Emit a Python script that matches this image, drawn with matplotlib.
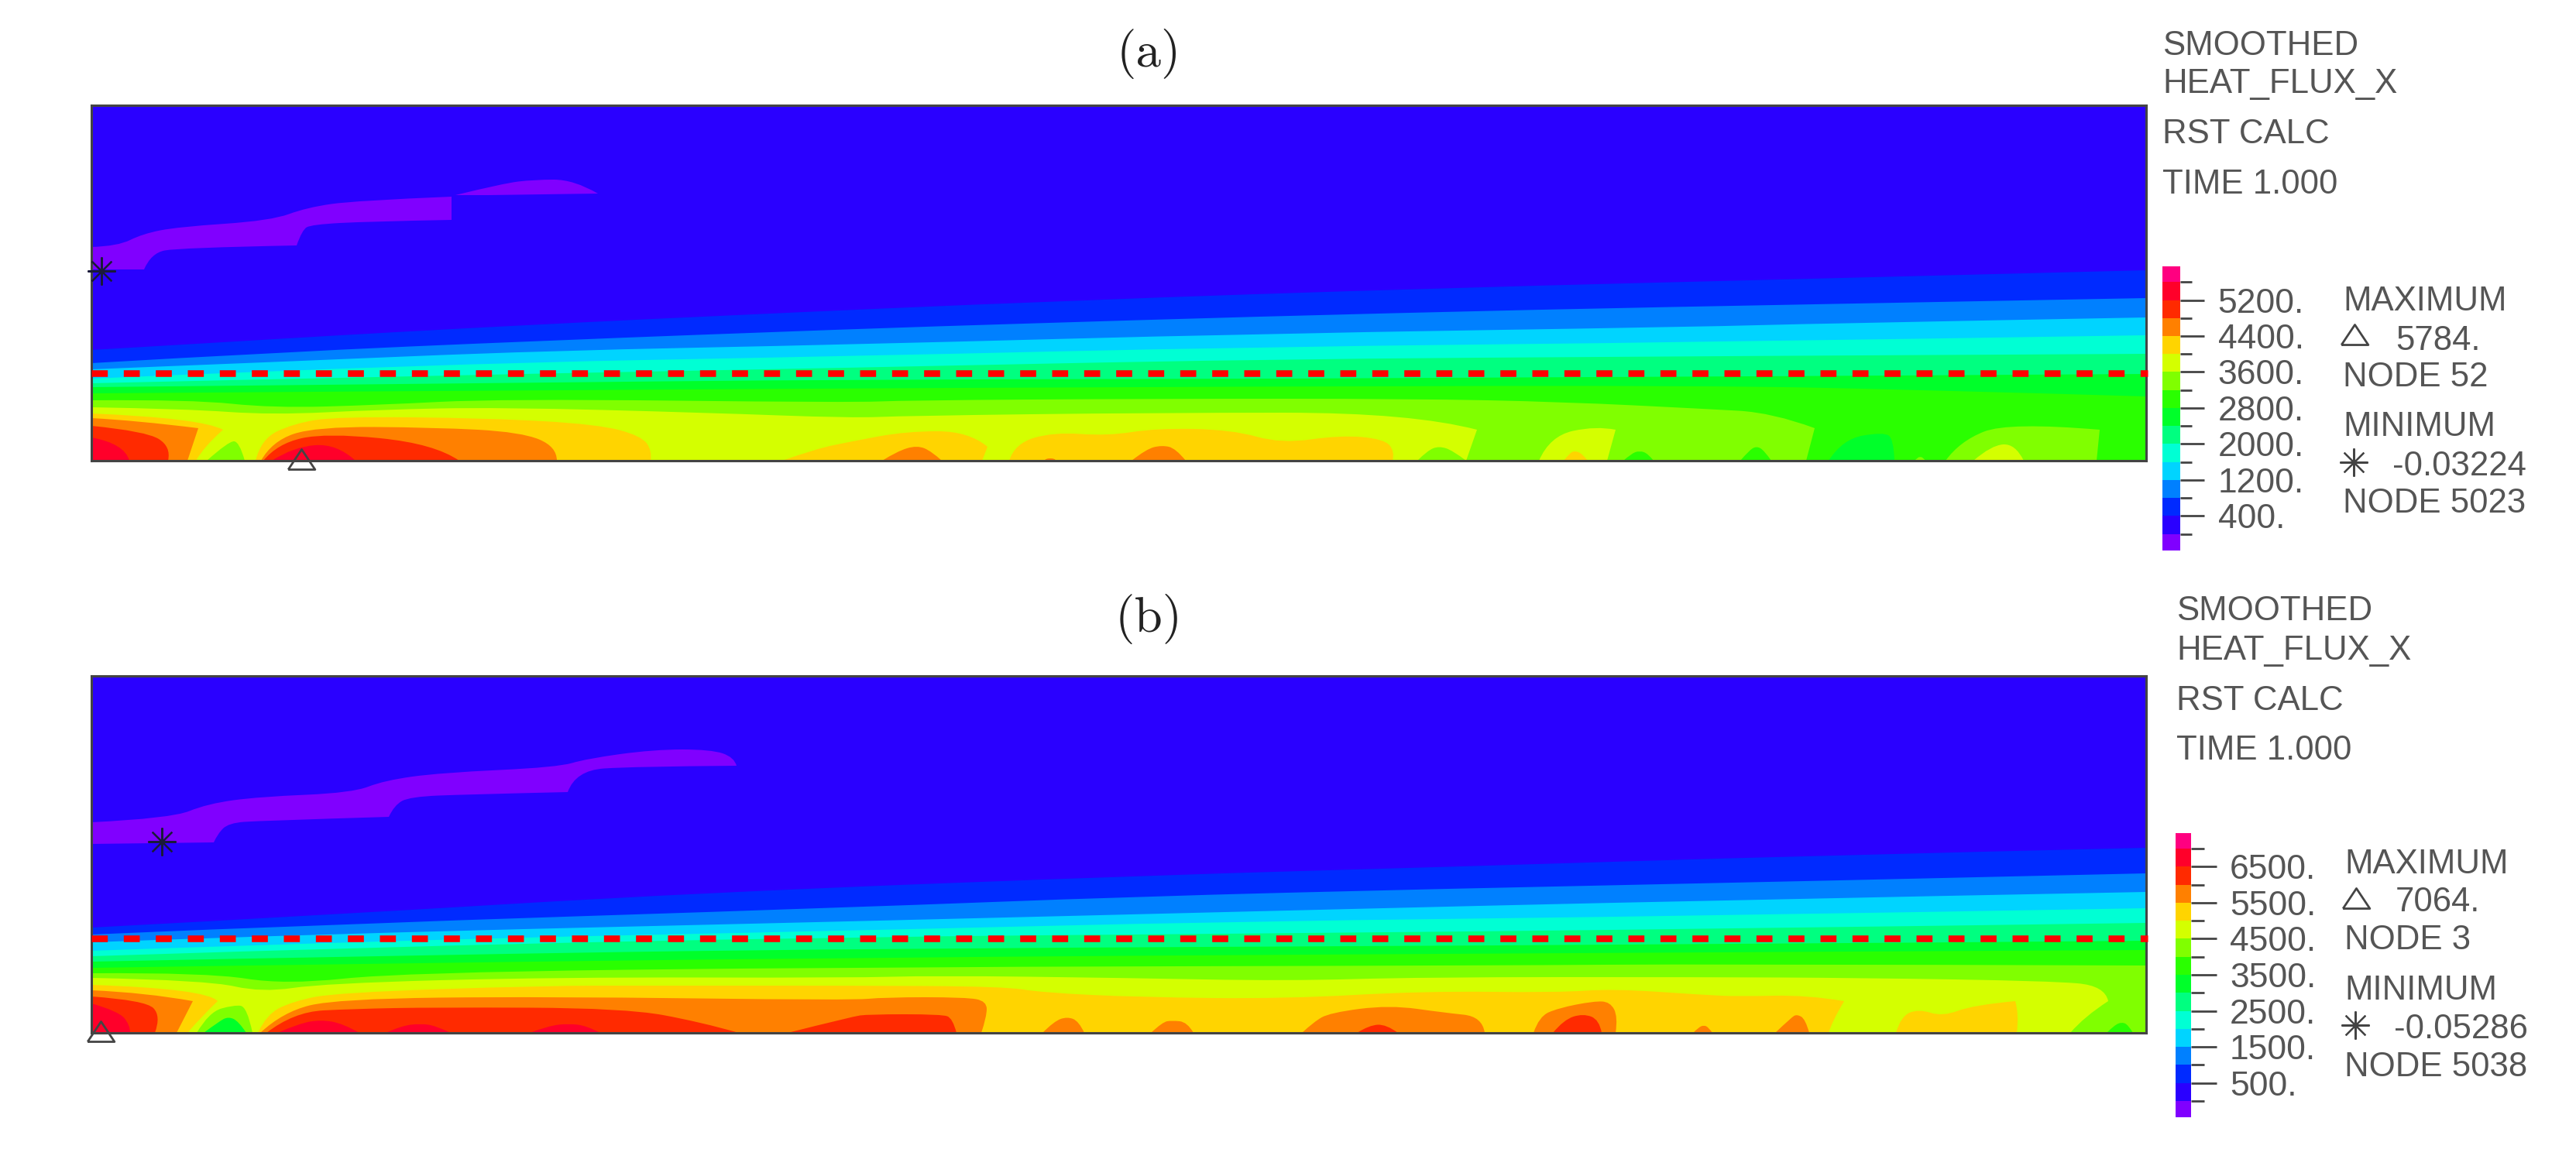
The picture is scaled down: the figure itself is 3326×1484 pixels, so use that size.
import numpy as np
import matplotlib
matplotlib.use('Agg')
import matplotlib.pyplot as plt
from matplotlib.lines import Line2D
from matplotlib.path import Path
from matplotlib.patches import PathPatch

W, H = 3326, 1484

# fringe colours, bottom of the colour bar to the top
palette = ['#8000ff', '#2a00ff', '#002aff', '#0080ff', '#00d4ff', '#00ffd4', '#00ff80', '#00ff2a',
           '#2aff00', '#80ff00', '#d4ff00', '#ffd400', '#ff8000', '#ff2a00', '#ff002a', '#ff0080']

# colour bars
a_levels = [-370, 0, 400, 800, 1200, 1600, 2000, 2400, 2800, 3200, 3600, 4000, 4400, 4800, 5200, 5600, 5950]
a_major = [400, 1200, 2000, 2800, 3600, 4400, 5200]
a_minor = [0, 800, 1600, 2400, 3200, 4000, 4800, 5600]
b_levels = [-450, 0, 500, 1000, 1500, 2000, 2500, 3000, 3500, 4000, 4500, 5000, 5500, 6000, 6500, 7000, 7430]
b_major = [500, 1500, 2500, 3500, 4500, 5500, 6500]
b_minor = [0, 1000, 2000, 3000, 4000, 5000, 6000, 7000]

# texts
header_a = ['SMOOTHED', 'HEAT_FLUX_X', 'RST CALC', 'TIME 1.000']
header_b = ['SMOOTHED', 'HEAT_FLUX_X', 'RST CALC', 'TIME 1.000']
stats_a = ['MAXIMUM', '5784.', 'NODE 52', 'MINIMUM', '-0.03224', 'NODE 5023']
stats_b = ['MAXIMUM', '7064.', 'NODE 3', 'MINIMUM', '-0.05286', 'NODE 5038']

# dashed line height, max and min markers, (distance along, height)
a_dash = 113
b_dash = 122
a_max_node = (271, 2)
a_min_node = (13, 245)
b_max_node = (12, 2)
b_min_node = (91, 247)

# panel (a), full width iso-lines: (distance along, height)
a_iso = [
    (2, [(0, 143), (170, 153), (303, 161), (500, 172), (782, 186), (1262, 207), (1741, 223), (2221, 235), (2653, 246)]),
    (3, [(0, 126), (240, 140), (583, 155), (982, 170), (1202, 177), (1501, 186), (1861, 195), (2221, 202), (2653, 210)]),
    (4, [(0, 118), (250, 128), (583, 142), (982, 150), (1500, 164), (2082, 173), (2221, 177), (2653, 185)]),
    (5, [(0, 106), (443, 125), (982, 135), (1501, 147), (2082, 153), (2653, 162)]),
    (6, [(0, 100), (443, 110), (982, 120), (1501, 131), (2082, 135), (2653, 138)]),
    (7, [(0, 95), (500, 100), (982, 105), (1700, 106), (2653, 112)]),
    (8, [(0, 87), (700, 92), (1540, 96), (2082, 97), (2350, 92), (2653, 83)]),
    (9, [(0, 78), (130, 79), (233, 68), (373, 72), (527, 80), (982, 75), (1052, 78), (1375, 80), (1705, 80),
         (1900, 76), (2082, 67), (2171, 62), (2225, 42), (2214, 0)]),
    (10, [(0, 69), (120, 67), (233, 59), (373, 66), (527, 69), (794, 62), (982, 55), (1052, 58), (1375, 62),
          (1705, 62), (1789, 40), (1775, 0)]),
]
# panel (a), closed lobes along the bottom edge, drawn in this order
a_lobes = [
    (11, [(0, 0), (0, 61), (142, 55), (170, 40), (145, 18), (135, 0)]),
    (12, [(0, 0), (0, 55), (57, 52), (138, 42), (124, 0)]),
    (13, [(0, 0), (0, 45), (71, 38), (103, 18), (99, 0)]),
    (14, [(0, 0), (0, 30), (43, 22), (49, 0)]),
    (9, [(149, 0), (177, 25), (191, 25), (198, 0)]),
    (11, [(212, 0), (219, 28), (261, 48), (317, 57), (513, 55), (654, 47), (710, 32), (724, 13), (722, 0)]),
    (12, [(219, 0), (233, 25), (289, 44), (443, 43), (555, 37), (601, 18), (601, 0)]),
    (13, [(222, 0), (240, 22), (303, 36), (443, 22), (475, 0)]),
    (14, [(233, 0), (261, 18), (317, 22), (341, 0)]),
    (11, [(892, 0), (934, 15), (982, 25), (1052, 38), (1133, 38), (1157, 18), (1150, 0)]),
    (11, [(1185, 0), (1192, 22), (1242, 37), (1312, 32), (1375, 42), (1473, 40), (1536, 22), (1613, 33), (1669, 28),
          (1683, 12), (1680, 0)]),
    (12, [(1021, 0), (1040, 12), (1066, 20), (1085, 12), (1098, 0)]),
    (12, [(1231, 0), (1231, 3), (1245, 3), (1245, 0)]),
    (12, [(1343, 0), (1362, 15), (1382, 20), (1400, 16), (1413, 0)]),
    (9, [(1712, 0), (1725, 13), (1740, 19), (1758, 13), (1775, 0)]),
    (10, [(1869, 0), (1883, 32), (1943, 45), (1968, 40), (1957, 0)]),
    (11, [(1901, 0), (1908, 9), (1915, 13), (1925, 9), (1932, 0)]),
    (8, [(1978, 0), (1988, 9), (1999, 13), (2010, 9), (2017, 0)]),
    (8, [(2129, 0), (2140, 13), (2150, 19), (2160, 13), (2169, 0)]),
    (7, [(2243, 0), (2261, 28), (2314, 37), (2327, 28), (2328, 0)]),
    (9, [(2354, 0), (2358, 4), (2361, 5), (2365, 4), (2368, 0)]),
    (9, [(2394, 0), (2412, 25), (2475, 50), (2593, 40), (2589, 0)]),
    (10, [(2430, 0), (2453, 20), (2484, 22), (2495, 0)]),
]
# panel (a), purple slivers in the upper part
a_purple = [
    [(0, 276), (34, 277), (66, 293), (112, 302), (232, 310), (278, 327), (341, 336), (465, 341), (465, 311),
     (358, 309), (284, 305), (272, 298), (265, 278), (112, 275), (77, 268), (68, 247), (0, 247)],
    [(470, 343), (531, 358), (571, 363), (623, 363), (654, 345), (513, 343)],
]

# panel (b), full width iso-lines
b_iso = [
    (2, [(0, 136), (300, 152), (782, 181), (1381, 204), (1741, 214), (2221, 229), (2653, 239)]),
    (3, [(0, 127), (300, 140), (982, 162), (1345, 176), (1741, 186), (2221, 196), (2653, 206)]),
    (4, [(0, 117), (300, 128), (982, 144), (1501, 157), (2082, 171), (2653, 182)]),
    (5, [(0, 106), (400, 120), (982, 132), (1473, 144), (2082, 151), (2653, 161)]),
    (6, [(0, 99), (400, 112), (982, 124), (1473, 128), (2082, 134), (2653, 142)]),
    (7, [(0, 92), (400, 100), (982, 109), (2082, 114), (2653, 119)]),
    (8, [(0, 84), (400, 90), (982, 97), (1683, 102), (2653, 107)]),
    (9, [(0, 77), (150, 78), (250, 62), (400, 78), (982, 85), (1824, 87), (2082, 89), (2653, 87)]),
    (10, [(0, 71), (150, 68), (220, 52), (300, 64), (600, 72), (982, 71), (1087, 74), (1333, 71), (1543, 67), (1719, 72),
          (2082, 72), (2283, 71), (2528, 67), (2600, 61), (2604, 41), (2573, 21), (2555, 0)]),
]
b_lobes = [
    (11, [(0, 0), (0, 62), (149, 57), (163, 41), (141, 20), (124, 0)]),
    (12, [(0, 0), (0, 55), (70, 52), (131, 41), (110, 0)]),
    (13, [(0, 0), (0, 47), (70, 42), (90, 22), (82, 0)]),
    (14, [(0, 0), (0, 38), (35, 28), (50, 10), (50, 0)]),
    (9, [(136, 0), (152, 27), (184, 36), (201, 34), (208, 0)]),
    (7, [(145, 0), (165, 15), (177, 21), (190, 15), (200, 0)]),
    (11, [(215, 0), (226, 24), (261, 41), (317, 52), (583, 61), (724, 61), (982, 61), (1178, 60), (1228, 52), (1354, 46),
          (1543, 44), (1719, 54), (1894, 52), (1964, 57), (2082, 49), (2127, 47), (2216, 49), (2263, 41), (2247, 14),
          (2243, 0)]),
    (12, [(218, 0), (247, 27), (317, 44), (583, 47), (982, 42), (1024, 46), (1129, 46), (1156, 41), (1156, 21), (1149, 0)]),
    (13, [(226, 0), (261, 27), (338, 31), (443, 33), (689, 32), (787, 14), (836, 0)]),
    (13, [(899, 0), (982, 21), (1003, 24), (1098, 24), (1112, 19), (1117, 0)]),
    (14, [(240, 0), (268, 12), (296, 17), (325, 12), (346, 0)]),
    (14, [(380, 0), (400, 9), (425, 12), (445, 9), (464, 0)]),
    (14, [(566, 0), (590, 9), (616, 12), (640, 9), (657, 0)]),
    (12, [(1228, 0), (1243, 15), (1260, 21), (1275, 15), (1282, 0)]),
    (12, [(1368, 0), (1383, 14), (1395, 16), (1415, 14), (1423, 0)]),
    (12, [(1563, 0), (1578, 14), (1599, 26), (1676, 36), (1747, 26), (1796, 21), (1799, 0)]),
    (13, [(1634, 0), (1650, 10), (1672, 11), (1687, 0)]),
    (12, [(1862, 0), (1869, 21), (1894, 32), (1940, 41), (1961, 40), (1971, 21), (1968, 0)]),
    (13, [(1887, 0), (1901, 17), (1926, 25), (1947, 17), (1950, 0)]),
    (12, [(2068, 0), (2075, 7), (2082, 10), (2088, 7), (2093, 0)]),
    (12, [(2174, 0), (2195, 20), (2202, 24), (2213, 18), (2218, 0)]),
    (11, [(2330, 0), (2336, 21), (2359, 31), (2390, 21), (2430, 36), (2484, 41), (2489, 24), (2486, 0)]),
    (8, [(2602, 0), (2612, 10), (2622, 14), (2630, 10), (2636, 0)]),
]
b_purple = [
    [(0, 272), (103, 277), (150, 296), (217, 305), (337, 310), (378, 326), (451, 336), (602, 343), (639, 354), (726, 366),
     (800, 366), (830, 356), (833, 345), (699, 344), (625, 339), (615, 311), (485, 308), (411, 305), (391, 294),
     (384, 279), (217, 274), (177, 271), (163, 257), (158, 246), (0, 244)],
]

# contour vertices that are real kinks in the picture
kinks = [(465, 341), (465, 311), (265, 278), (68, 247), (470, 343), (654, 345), (513, 343),
         (833, 345), (615, 311), (384, 279), (158, 246), (2225, 42), (1789, 40), (170, 40), (138, 42),
         (1968, 40), (2593, 40), (2604, 41), (2263, 41), (163, 41), (131, 41), (2484, 41), (1157, 18)]

TEXT = '#555555'
LINE = '#444444'
plt.rcParams['font.family'] = ['Liberation Sans', 'DejaVu Sans']
fig = plt.figure(figsize=(W/100, H/100), dpi=100, facecolor='white')
tri = [(-1, -0.75), (1, -0.75), (0, 0.75), (-1, -0.75)]


def box(x0, y0, x1, y1):
    return [x0/W, 1-y1/H, (x1-x0)/W, (y1-y0)/H]


# points on the edges stay sharp, the others become soft corners of the contour
def poly(ax, pts, color, closed=True):
    if not closed:
        pts = pts+[(pts[-1][0], 0), (0, 0)]
    sharp = [p[0] == 0 or p[0] == 2653 or p[1] == 0 or p in kinks for p in pts]
    verts = [pts[0]]
    codes = [Path.MOVETO]
    for i in range(1, len(pts)):
        if sharp[i] or i == len(pts)-1:
            verts.append(pts[i])
            codes.append(Path.LINETO)
            continue
        nxt = pts[i+1]
        end = nxt if sharp[i+1] else ((pts[i][0]+nxt[0])/2, (pts[i][1]+nxt[1])/2)
        verts += [pts[i], end]
        codes += [Path.CURVE3, Path.CURVE3]
    verts.append(pts[0])
    codes.append(Path.CLOSEPOLY)
    ax.add_patch(PathPatch(Path(verts, codes), facecolor=color, lw=0, zorder=2))


def node_marks(ax, maxn, minn):
    ax.plot(*maxn, marker=tri, ms=25, mfc='none', mec=LINE, mew=2, clip_on=False, zorder=6)
    ax.plot(*minn, marker=(8, 2, 0), ms=26, mec='#1a1a3a', mew=1.6, clip_on=False, zorder=6)


def panel(rect, height, iso, lobes, purple, dash, maxn, minn):
    ax = fig.add_axes(box(*rect))
    ax.set_xlim(0, 2653)
    ax.set_ylim(0, height)
    ax.set_facecolor(palette[1])
    for band, pts in iso:
        poly(ax, pts, palette[band], closed=False)
    for band, pts in lobes:
        poly(ax, pts, palette[band])
    for pts in purple:
        poly(ax, pts, palette[0])
    ax.plot([0, 2655], [dash, dash], color='#ff0000', lw=6.2, ls=(0, (2.4, 2.4)), dash_capstyle='butt',
            clip_on=False, zorder=5)
    ax.set_xticks([])
    ax.set_yticks([])
    for s in ax.spines.values():
        s.set_color(LINE)
        s.set_linewidth(2.2)
        s.set_zorder(4)
    node_marks(ax, maxn, minn)
    return ax


def colorbar(rect, levels, major, minor, long_t, short_t, pad):
    ax = fig.add_axes(box(*rect))
    levels = np.array(levels)
    ax.bar(0, np.diff(levels), bottom=levels[:-1], width=1, color=palette, lw=0)
    ax.set_xlim(-0.5, 0.5)
    ax.set_ylim(levels[0], levels[-1])
    ax.set_xticks([])
    ax.yaxis.tick_right()
    ax.set_yticks(major)
    ax.set_yticklabels(['%d.' % v for v in major], fontsize=32, color=TEXT)
    ax.set_yticks(minor, minor=True)
    ax.tick_params(axis='y', which='major', length=long_t, width=2, color=LINE, pad=pad)
    ax.tick_params(axis='y', which='minor', length=short_t, width=2, color=LINE)
    for s in ax.spines.values():
        s.set_visible(False)


def side_text(x, y, s, size=31.5):
    fig.text(x/W, 1-(y+16)/H, s, fontsize=size, color=TEXT, ha='left', va='baseline')


def legend_mark(x, y, marker, ms, mew):
    fig.add_artist(Line2D([x/W], [1-y/H], transform=fig.transFigure, marker=marker, ms=ms, mfc='none',
                          mec=LINE, mew=mew, ls='none'))


panel((118, 136, 2771, 595), 459, a_iso, a_lobes, a_purple, a_dash, a_max_node, a_min_node)
panel((118, 873, 2771, 1334), 461, b_iso, b_lobes, b_purple, b_dash, b_max_node, b_min_node)

colorbar((2792, 344, 2815, 711), a_levels, a_major, a_minor, 22, 11, 13)
colorbar((2809, 1076, 2829, 1443), b_levels, b_major, b_minor, 24, 12, 12)

fig.text(1483/W, 1-70/H, '(a)', family='cmr10', fontsize=47, ha='center', va='center', color='#222222')
fig.text(1483/W, 1-799/H, '(b)', family='cmr10', fontsize=47, ha='center', va='center', color='#222222')

for s, y in zip(header_a, [55, 104, 169, 234]):
    side_text(2792, y, s)
for s, y in zip(header_b, [785, 836, 901, 965]):
    side_text(2810, y, s)

for s, x, y in zip(stats_a, [3025, 3093, 3025, 3025, 3089, 3025], [385, 436, 483, 547, 598, 646]):
    side_text(x, y, s)
for s, x, y in zip(stats_b, [3027, 3093, 3027, 3027, 3091, 3027], [1112, 1161, 1210, 1275, 1325, 1374]):
    side_text(x, y, s)

legend_mark(3040, 432, tri, 25, 2)
legend_mark(3042, 1160, tri, 25, 2)
legend_mark(3039, 597, (8, 2, 0), 26, 1.6)
legend_mark(3041, 1324, (8, 2, 0), 26, 1.6)

fig.savefig('out.png', dpi=100, facecolor='white')
